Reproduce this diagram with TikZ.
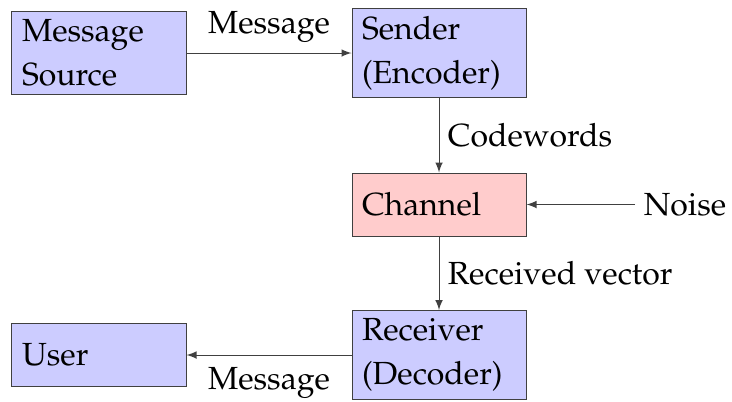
\documentclass[tikz,border=0pt]{standalone}
\usepackage[T1]{fontenc}
\usepackage{mathpazo}
\usetikzlibrary{arrows}
\begin{document}
\begin{tikzpicture}[x=0.4pt,y=-0.4pt,
  font=\fontsize{12.8pt}{17.6pt}\selectfont,
  blockbox/.style={draw=black!75, fill=blue!20, align=left,
    text width=61.6pt, inner xsep=4pt, inner ysep=3.2pt,
    minimum height=25.2pt, line width=0.4pt},
  chanbox/.style={blockbox, fill=red!20},
  flow/.style={-latex, draw=black!75, line width=0.4pt}]
  \useasboundingbox (0,0) rectangle (732,401);

  % blocks
  \node[blockbox] (src) at (99,53) {Message\\Source};
  \node[blockbox] (snd) at (439,53) {Sender\\(Encoder)};
  \node[chanbox]  (chn) at (439,204.5) {Channel};
  \node[blockbox] (rcv) at (439,355) {Receiver\\(Decoder)};
  \node[blockbox] (usr) at (99,355) {User};
  \node (noise) at (685,204.5) {Noise};

  % connections
  \draw[flow] (src) -- node[above, yshift=0.5pt] (lm1) {Message} (snd);
  \draw[flow] (snd) -- node[right] (lcw) {Codewords} (chn);
  \draw[flow] (noise) -- (chn);
  \draw[flow] (chn) -- node[right] (lrv) {Received vector} (rcv);
  \draw[flow] (rcv) -- node[below, yshift=-1.5pt] (lm2) {Message} (usr);
\end{tikzpicture}
\end{document}
